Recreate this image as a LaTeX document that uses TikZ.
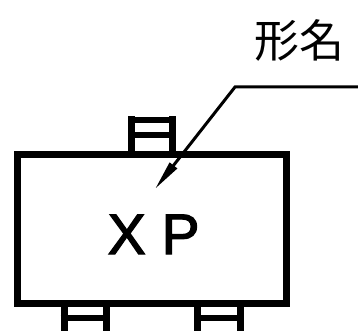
\documentclass[tikz,border=0pt]{standalone}
\usepackage{fontspec}
\setmainfont{Liberation Sans}
\newfontfamily\cjk{Noto Sans CJK JP}
\newfontfamily\markfont[FakeBold=2.2]{Liberation Sans}
\usetikzlibrary{arrows.meta}
\tikzset{
  outline/.style={draw=black,line width=7pt,line join=miter},
  rung/.style={draw=black,line width=6.5pt},
  leader/.style={draw=black,line width=3pt,line join=miter},
  lbl/.style={inner sep=0pt,text=black}
}
\begin{document}
\begin{tikzpicture}[x=1pt,y=-1pt]
\useasboundingbox[fill=white] (0,0) rectangle (358,334);
% top lead
\draw[outline] (131.5,151) -- (131.5,116);
\draw[outline] (172.5,151) -- (172.5,116);
\draw[rung] (128,120) -- (176,120);
\draw[rung] (128,135) -- (176,135);
% bottom leads
\draw[outline] (64,306) -- (64,331);
\draw[outline] (106,306) -- (106,331);
\draw[rung] (60.5,318) -- (109.5,318);
\draw[outline] (197.5,306) -- (197.5,331);
\draw[outline] (240.5,306) -- (240.5,331);
\draw[rung] (194,318) -- (244,318);
% body
\node[outline,fill=white,minimum width=269pt,minimum height=148.5pt,inner sep=0pt,outer sep=0pt,anchor=center] (body) at (152,229) {};
% labels
\node[lbl,font=\cjk\fontsize{45pt}{45pt}\selectfont,anchor=center] (name) at (299.5,40) {形名};
\node[lbl,font=\markfont\fontsize{57pt}{57pt}\selectfont,anchor=base west] (mark) at (107.5,254) {X P};
% leader
\coordinate (end) at (358,87);
\coordinate (knee) at (235,87);
\coordinate (tip) at (155,189);
\draw[leader,-{Stealth[length=30pt,width=9pt,inset=0pt]}] (end) -- (knee) -- (tip);
\end{tikzpicture}
\end{document}
